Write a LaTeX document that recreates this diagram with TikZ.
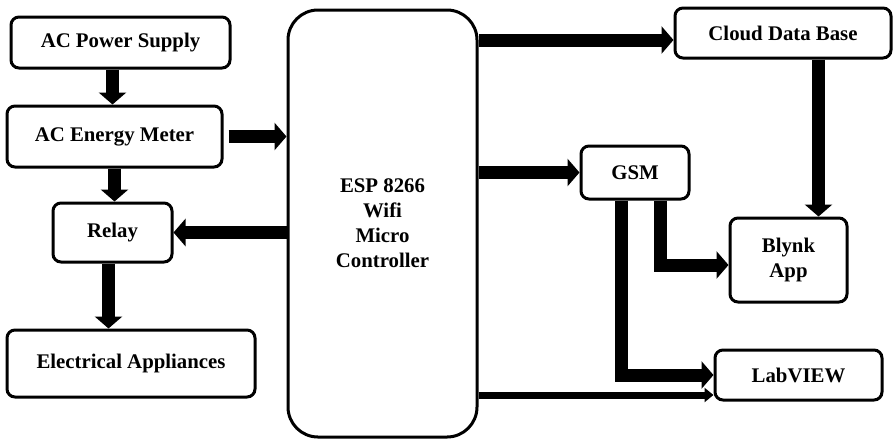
\documentclass[tikz,border=0pt]{standalone}
\usepackage{fontspec}
\setmainfont{Liberation Serif}
\usepackage{tikz}
\usetikzlibrary{arrows.meta}

\begin{document}
\begin{tikzpicture}[
	x=1pt, y=-1pt,
	blockbox/.style={draw=black, line width=3pt, rounded corners=8pt, fill=white, align=center, inner sep=0pt,
		font=\fontsize{20.8}{25}\selectfont\bfseries},
	fatarrow/.style={draw=black, line width=13pt, -{Triangle[width=27pt,length=12pt]}},
	slimarrow/.style={draw=black, line width=7pt, -{Triangle[width=14pt,length=9pt]}},
	fatline/.style={draw=black, line width=13pt},
	]
	\useasboundingbox (0,0) rectangle (893,440);
	%Nodes
	\node[blockbox, minimum width=219pt, minimum height=51pt]  (supply) at (120.5,42.5) {AC Power Supply};
	\node[blockbox, minimum width=215pt, minimum height=61pt]  (meter)  at (114.5,136.5) {AC Energy Meter};
	\node[blockbox, minimum width=119pt, minimum height=59pt]  (relay)  at (112.5,232.5) {Relay};
	\node[blockbox, minimum width=248pt, minimum height=67pt]  (load)   at (131,363.5) {Electrical Appliances};
	\node[blockbox, minimum width=189pt, minimum height=427pt, rounded corners=30pt] (esp) at (382.5,223.5)
		{ESP 8266\\Wifi\\Micro\\Controller};
	\node[blockbox, minimum width=216pt, minimum height=50pt]  (cloud)  at (783,33) {Cloud Data Base};
	\node[blockbox, minimum width=108pt, minimum height=53pt]  (gsm)    at (635,172.5) {GSM};
	\node[blockbox, minimum width=117pt, minimum height=84pt]  (blynk)  at (788.5,260) {Blynk\\App};
	\node[blockbox, minimum width=167pt, minimum height=50pt]  (lab)    at (798.5,375) {LabVIEW};
	
	%Helper points
	\coordinate (ps) at ([xshift=-8pt]supply.south);
	\coordinate (rl) at ([xshift=-4pt]relay.south);
	\coordinate (cl) at ([yshift=-7pt]cloud.west);
	\coordinate (bt) at ([xshift=30pt]blynk.north);
	\coordinate (gl) at ([xshift=-14pt]gsm.south);
	\coordinate (gr) at ([xshift=25pt]gsm.south);
	\coordinate (lb) at ([yshift=-20pt]lab.west);
	
	%Lines
	\draw[fatarrow] (ps) -- (ps |- meter.north);
	\draw[fatarrow] (meter.south) -- (meter.south |- relay.north);
	\draw[fatarrow] (rl) -- (rl |- load.north);
	\draw[fatarrow, shorten <=5pt] (meter.east) -- (meter.east -| esp.west);
	\draw[fatarrow] (esp.west |- relay.east) -- (relay.east);
	\draw[fatarrow] (esp.east |- cl) -- (cl);
	\draw[fatarrow] (esp.east |- gsm.west) -- (gsm.west);
	\draw[fatarrow] (bt |- cloud.south) -- (bt);
	\draw[fatarrow] (gr) |- ([yshift=-5pt]blynk.west);
	\draw[fatarrow] (gl) |- (lab.west);
	\draw[slimarrow] (esp.east |- lb) -- (lb);
\end{tikzpicture}
\end{document}
